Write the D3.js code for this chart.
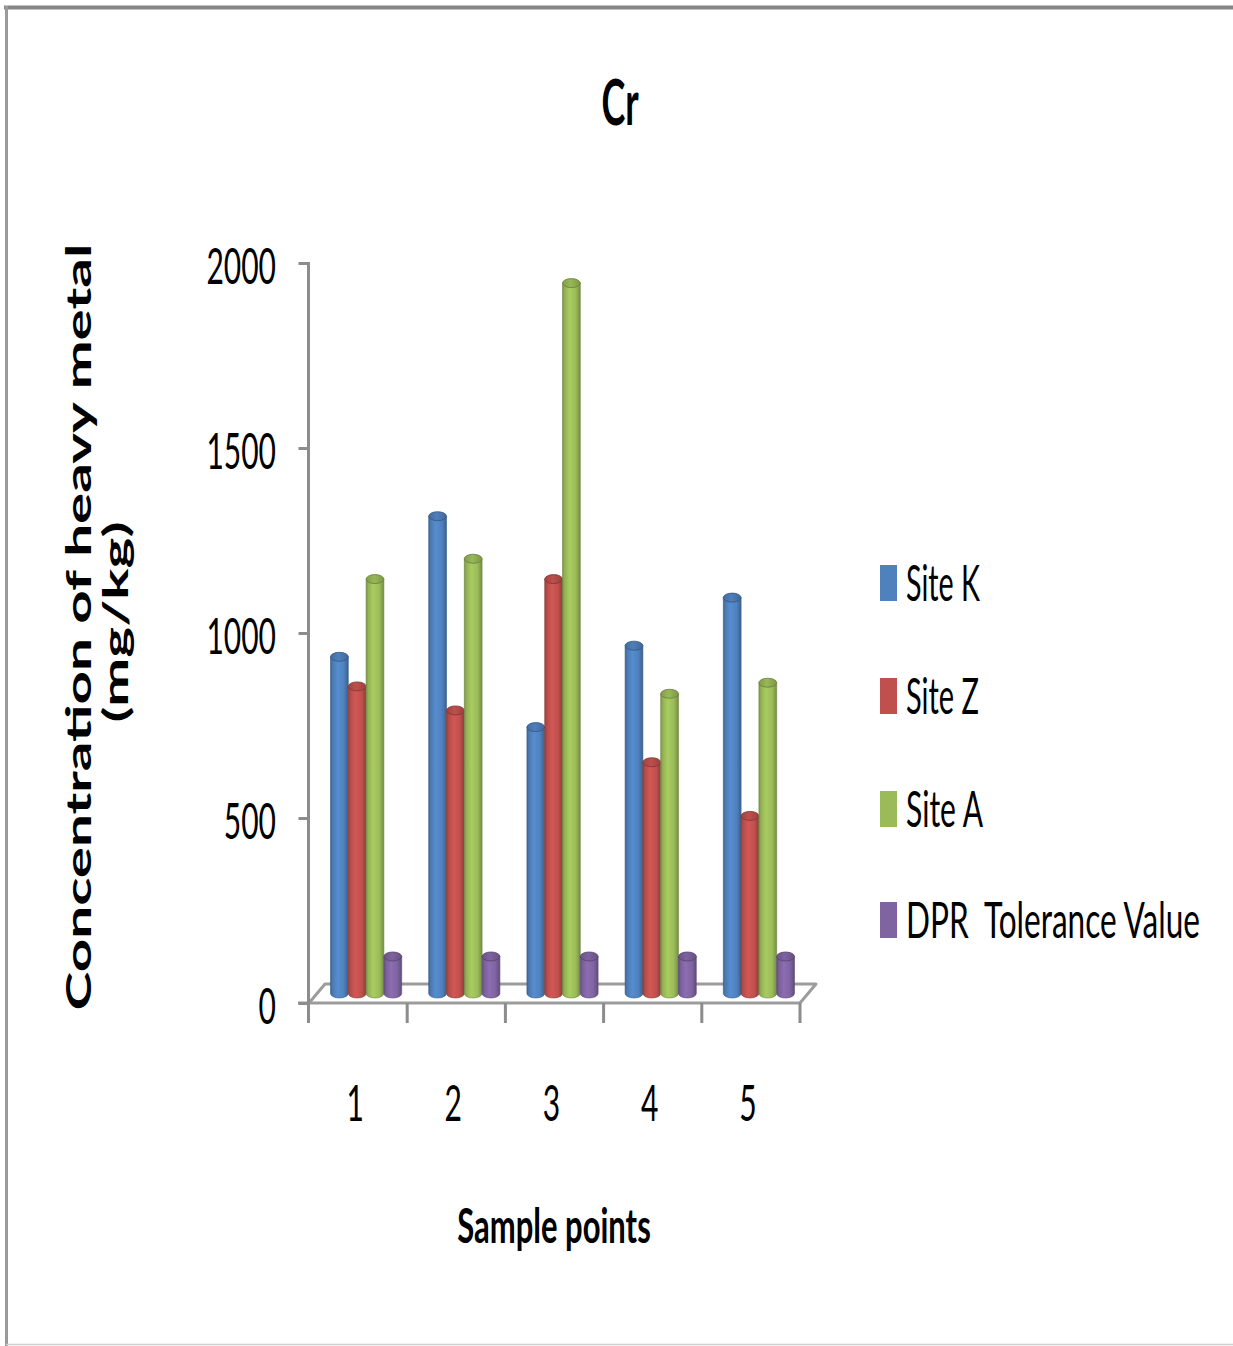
<!DOCTYPE html>
<html>
<head>
<meta charset="utf-8">
<script src="https://cdn.jsdelivr.net/npm/d3@7"></script>
<style>
  html, body { margin: 0; padding: 0; background: #fff; }
  svg { display: block; }
  text { font-family: Lato, "Open Sans", sans-serif; fill: #000; white-space: pre; }
</style>
</head>
<body>
<svg id="chart" width="1233" height="1346"></svg>
<script>
// Cr concentration per sample point (mg/kg)
const categories = ["1", "2", "3", "4", "5"];
const seriesNames = ["Site K", "Site Z", "Site A", "DPR  Tolerance Value"];
const siteK = [910, 1290, 720, 940, 1070];
const siteZ = [830, 765, 1120, 625, 480];
const siteA = [1120, 1175, 1920, 810, 840];
const dprTolerance = [100, 100, 100, 100, 100];
const seriesColors = ["#4F81BD", "#C0504D", "#9BBB59", "#8064A2"];
const yTickValues = [0, 500, 1000, 1500, 2000];

const seriesValues = [siteK, siteZ, siteA, dprTolerance];

const svg = d3.select("#chart");
const defs = svg.append("defs");

// frame around the chart area
svg.append("rect").attr("x", 0).attr("y", 0).attr("width", 1233).attr("height", 1346).attr("fill", "#fff");
svg.append("line").attr("x1", 4).attr("x2", 1233).attr("y1", 7.5).attr("y2", 7.5)
  .attr("stroke", "#858585").attr("stroke-width", 4);
svg.append("line").attr("x1", 6.5).attr("x2", 6.5).attr("y1", 6).attr("y2", 1346)
  .attr("stroke", "#9a9a9a").attr("stroke-width", 3);
svg.append("line").attr("x1", 6).attr("x2", 1233).attr("y1", 1344.5).attr("y2", 1344.5)
  .attr("stroke", "#cfcfcf").attr("stroke-width", 1.5);

// text drawn with a vertical stretch (tall, narrow lettering)
function stretchedText(parent, x, y, str, opts) {
  const o = Object.assign({ size: 30, weight: "normal", anchor: "start", sx: 1, sy: 1.68, rotate: 0 }, opts);
  const g = parent.append("g")
    .attr("transform", `translate(${x},${y}) rotate(${o.rotate}) scale(${o.sx},${o.sy})`);
  const t = g.append("text")
    .attr("xml:space", "preserve")
    .attr("font-size", o.size)
    .attr("font-weight", o.weight)
    .attr("text-anchor", o.anchor)
    .text(str);
  if (o.length) t.attr("textLength", o.length).attr("lengthAdjust", "spacingAndGlyphs");
  return g;
}

// scales
const y = d3.scaleLinear().domain([0, 2000]).range([1003, 263]);
const x0 = d3.scaleBand().domain(categories).range([309, 800]).padding(0);
const groupFrac = 0.725;
const x1 = d3.scaleBand().domain(seriesNames).range([0, x0.bandwidth() * groupFrac]).padding(0);

// depth of the 3-D floor
const depthX = 16, depthY = -19;
const midX = depthX / 2, midY = depthY / 2;

const axisColor = "#8c8c8c";

// floor
const floor = svg.append("g").attr("fill", "none").attr("stroke", "#9c9c9c").attr("stroke-width", 3)
  .attr("stroke-linejoin", "round");
const fx0 = x0.range()[0], fx1 = x0.range()[1], fy = y(0);
floor.append("path")
  .attr("d", `M${fx0},${fy} L${fx0 + depthX},${fy + depthY} L${fx1 + depthX},${fy + depthY} L${fx1},${fy}`);
floor.append("line").attr("x1", 298).attr("x2", fx1).attr("y1", fy).attr("y2", fy);

// value axis
const yAxis = d3.axisLeft(y).tickValues(yTickValues).tickSize(10).tickFormat("");
const yAxisG = svg.append("g").attr("transform", "translate(308.5,0)").call(yAxis);
yAxisG.select(".domain").remove();
yAxisG.selectAll(".tick line").attr("stroke", axisColor).attr("stroke-width", 3);
svg.append("line").attr("x1", 308.5).attr("x2", 308.5).attr("y1", y(2000) - 1).attr("y2", 1023)
  .attr("stroke", axisColor).attr("stroke-width", 3);

yTickValues.forEach(v => {
  stretchedText(svg, 276, y(v) + 21, String(v), { size: 30, anchor: "end" });
});

// category ticks and labels
const catEdges = categories.map(c => x0(c)).concat([x0.range()[1]]);
svg.append("g").selectAll("line").data(catEdges.slice(1)).join("line")
  .attr("x1", d => d).attr("x2", d => d).attr("y1", fy).attr("y2", 1023)
  .attr("stroke", axisColor).attr("stroke-width", 3);
categories.forEach(c => {
  stretchedText(svg, x0(c) + x0.bandwidth() / 2 - 3, 1121, c, { size: 30, anchor: "middle" });
});

// cylinder shading
seriesColors.forEach((col, i) => {
  const c = d3.color(col);
  const grad = defs.append("linearGradient").attr("id", "cyl" + i)
    .attr("x1", "0%").attr("x2", "100%").attr("y1", "0%").attr("y2", "0%");
  [[0, c.darker(0.7)], [0.12, c.darker(0.15)], [0.4, c.brighter(0.25)], [0.75, c], [1, c.darker(0.8)]]
    .forEach(([o, k]) => grad.append("stop").attr("offset", o).attr("stop-color", k.formatHex()));
  const topGrad = defs.append("linearGradient").attr("id", "cyltop" + i)
    .attr("x1", "0%").attr("x2", "100%").attr("y1", "0%").attr("y2", "0%");
  [[0, c.darker(0.5)], [0.45, c.darker(0.05)], [1, c.darker(0.6)]]
    .forEach(([o, k]) => topGrad.append("stop").attr("offset", o).attr("stop-color", k.formatHex()));
});

// bars as cylinders standing at mid-depth of the floor
const ry = 4.5;
const groupOffset = (x0.bandwidth() * (1 - groupFrac)) / 2 + midX;
const barsG = svg.append("g");
categories.forEach((c, ci) => {
  seriesNames.forEach((s, si) => {
    const v = seriesValues[si][ci];
    const bx = x0(c) + groupOffset + x1(s);
    const w = x1.bandwidth();
    const yBase = y(0) + midY;
    const yTop = y(v) + midY;
    const rx = w / 2;
    const col = d3.color(seriesColors[si]);
    const g = barsG.append("g");
    g.append("path")
      .attr("d", `M${bx},${yTop} L${bx},${yBase} A${rx},${ry} 0 0 0 ${bx + w},${yBase} L${bx + w},${yTop} Z`)
      .attr("fill", `url(#cyl${si})`)
      .attr("stroke", col.darker(0.9).formatHex()).attr("stroke-width", 0.6);
    g.append("ellipse")
      .attr("cx", bx + rx).attr("cy", yTop).attr("rx", rx).attr("ry", ry)
      .attr("fill", `url(#cyltop${si})`)
      .attr("stroke", col.darker(1.1).formatHex()).attr("stroke-width", 0.8);
  });
});

// title
stretchedText(svg, 620, 125, "Cr", { size: 36, weight: "bold", anchor: "middle", sy: 1.75 });

// axis titles
stretchedText(svg, 91, 627, "Concentration of heavy metal", { size: 35, weight: "bold", anchor: "middle", rotate: -90, sx: 1.67, sy: 1 });
stretchedText(svg, 128, 622, "(mg/kg)", { size: 35, weight: "bold", anchor: "middle", rotate: -90, sx: 1.67, sy: 1 });
stretchedText(svg, 554, 1243, "Sample points", { size: 31, weight: "bold", anchor: "middle", sy: 1.55 });

// legend
const legendTop = [565, 678, 791, 902];
const legendWidths = [74, 73, 77, 294];
seriesNames.forEach((s, i) => {
  svg.append("rect").attr("x", 880).attr("y", legendTop[i]).attr("width", 17).attr("height", 36)
    .attr("fill", seriesColors[i]);
  stretchedText(svg, 906, legendTop[i] + 36, s, { size: 30, length: legendWidths[i] });
});
</script>
</body>
</html>
